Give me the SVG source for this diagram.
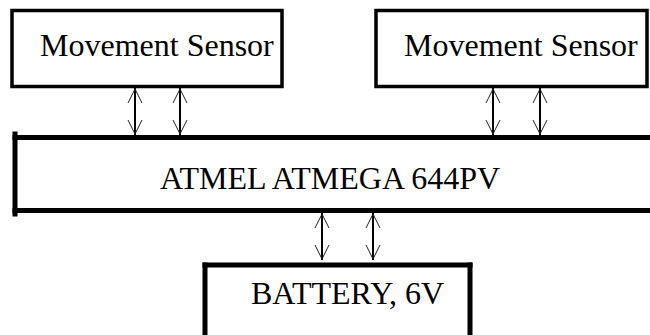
<svg xmlns="http://www.w3.org/2000/svg" width="650" height="335" viewBox="0 0 650 335">
<style>
.box{fill:#fff;stroke:#000;stroke-width:3.5}
.thick{fill:none;stroke:#000;stroke-width:5;stroke-linecap:square}
.t{font-family:"Liberation Serif","Times New Roman",serif;font-size:32px;fill:#000}
.shaft{stroke:#000;stroke-width:2}
.head{fill:none;stroke:#222;stroke-width:1}
</style>
<defs>
<g id="dbl">
<line class="shaft" x1="0" y1="0" x2="0" y2="47"/>
<polyline class="head" points="-7,15 0,1 7,15"/>
<polyline class="head" points="-7,32 0,46 7,32"/>
</g>
</defs>
<rect width="650" height="335" fill="#fff"/>
<g id="sensor-left">
<rect class="box" x="12" y="10.5" width="270" height="76"/>
<text class="t" x="40" y="56">Movement Sensor</text>
</g>
<g id="sensor-right">
<rect class="box" x="376" y="10.5" width="271" height="76"/>
<text class="t" x="404" y="56">Movement Sensor</text>
</g>
<g id="mcu">
<rect x="15" y="137.5" width="640" height="73" fill="#fff"/>
<line class="thick" x1="15" y1="137.5" x2="652" y2="137.5"/>
<line class="thick" x1="15" y1="210.5" x2="652" y2="210.5"/>
<line class="thick" x1="15" y1="134" x2="15" y2="214"/>
<text class="t" x="160" y="189">ATMEL ATMEGA 644PV</text>
</g>
<g id="battery">
<line class="thick" x1="205" y1="265" x2="470" y2="265"/>
<line class="thick" x1="205" y1="265" x2="205" y2="340"/>
<line class="thick" x1="470" y1="265" x2="470" y2="340"/>
<text class="t" x="251" y="304">BATTERY, 6V</text>
</g>
<g id="connectors">
<use href="#dbl" x="135" y="88"/>
<use href="#dbl" x="180" y="88"/>
<use href="#dbl" x="493" y="88"/>
<use href="#dbl" x="540" y="88"/>
<use href="#dbl" x="322" y="213"/>
<use href="#dbl" x="373" y="213"/>
</g>
</svg>
